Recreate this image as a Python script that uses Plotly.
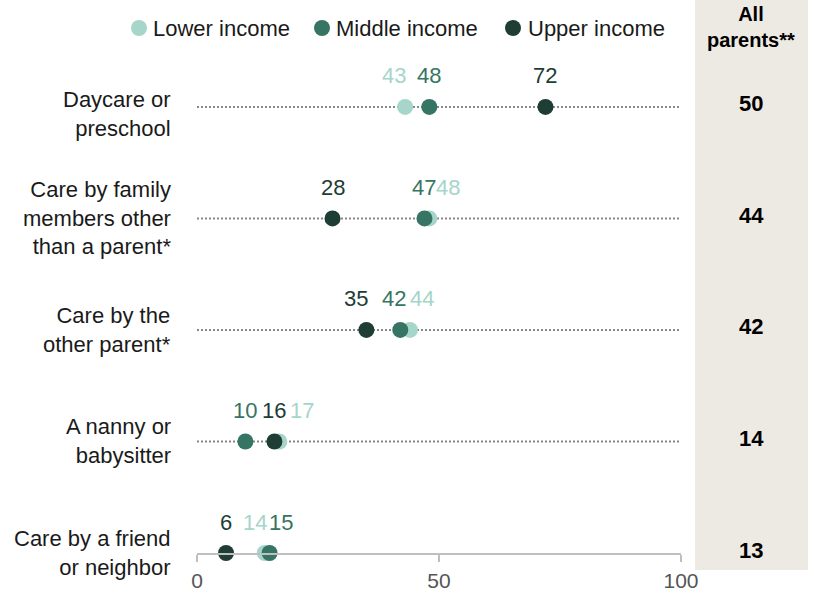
import plotly.graph_objects as go

# Care arrangements used by parents, by family income (%)
categories = [
    "Daycare or<br>preschool",
    "Care by family<br>members other<br>than a parent*",
    "Care by the<br>other parent*",
    "A nanny or<br>babysitter",
    "Care by a friend<br>or neighbor",
]
lower_income = [43, 48, 44, 17, 14]
middle_income = [48, 47, 42, 10, 15]
upper_income = [72, 28, 35, 16, 6]
all_parents = [50, 44, 42, 14, 13]
x_ticks = [0, 50, 100]

series = [
    ("Lower income", lower_income, "#A6D5C9"),
    ("Middle income", middle_income, "#367563"),
    ("Upper income", upper_income, "#1D3D35"),
]

# horizontal nudges (px) so neighbouring value labels don't collide
label_nudge = {
    "Lower income": [-11, 19, 12, 23, -10],
    "Middle income": [0, 0, -6, 0, 11],
    "Upper income": [0, 0, -10, 0, 0],
}

FONT = "Liberation Sans"
fig = go.Figure()

for name, vals, color in series:
    fig.add_trace(go.Scatter(
        x=vals, y=categories, mode="markers", name=name,
        marker=dict(size=16, color=color),
        cliponaxis=False, showlegend=False, hoverinfo="skip",
    ))

annotations = []
shapes = []

# dotted guide lines (last row sits on the axis line)
for cat in categories[:-1]:
    shapes.append(dict(
        type="line", xref="x", yref="y", x0=0, x1=100, y0=cat, y1=cat,
        line=dict(color="#888888", width=2, dash="2px,2px"), layer="below",
    ))

# value labels above the dots
for name, vals, color in series:
    for cat, v, dx in zip(categories, vals, label_nudge[name]):
        annotations.append(dict(
            x=v, y=cat, xref="x", yref="y", text=str(v), showarrow=False,
            xshift=dx, yshift=31, xanchor="center", yanchor="middle",
            font=dict(family=FONT, size=22, color=color),
        ))

# category labels
for i, cat in enumerate(categories):
    annotations.append(dict(
        x=0, y=cat, xref="paper", yref="y", text=cat, showarrow=False,
        xanchor="right", yanchor="middle", align="right", xshift=-24,
        yshift=-7 if i == 0 else 0,
        font=dict(family=FONT, size=22, color="#1A1A1A"),
    ))

# "All parents" column
shapes.append(dict(
    type="rect", xref="paper", yref="paper",
    x0=(695 - 197) / 484, x1=(808 - 197) / 484,
    y0=(553 - 570) / 513, y1=(553 - 0) / 513,
    fillcolor="#EDEAE3", line=dict(width=0), layer="below",
))
col_x = (751 - 197) / 484
annotations.append(dict(
    x=col_x, y=(553 - 27) / 513, xref="paper", yref="paper",
    text="<b>All<br>parents**</b>", showarrow=False,
    xanchor="center", yanchor="middle", align="center",
    font=dict(family=FONT, size=20, color="#000000"),
))
for cat, v in zip(categories, all_parents):
    annotations.append(dict(
        x=col_x, y=cat, xref="paper", yref="y", text=f"<b>{v}</b>",
        showarrow=False, xanchor="center", yanchor="middle", yshift=3,
        font=dict(family=FONT, size=22, color="#000000"),
    ))

# legend drawn as circles + text
legend_items = [(139, 151), (322, 334), (513, 526)]
leg_y = (553 - 28) / 513
for (cx, tx), (name, _, color) in zip(legend_items, series):
    shapes.append(dict(
        type="circle", xref="paper", yref="paper",
        xsizemode="pixel", ysizemode="pixel",
        xanchor=(cx - 197) / 484, yanchor=leg_y,
        x0=-8, x1=8, y0=-8, y1=8,
        fillcolor=color, line=dict(width=0),
    ))
    annotations.append(dict(
        x=(tx - 197) / 484, y=leg_y, xref="paper", yref="paper",
        text=name, showarrow=False, xanchor="left", yanchor="middle",
        font=dict(family=FONT, size=22, color="#1A1A1A"),
    ))

fig.update_layout(
    width=814, height=595,
    margin=dict(l=197, r=133, t=40, b=42, autoexpand=False),
    paper_bgcolor="white", plot_bgcolor="white",
    shapes=shapes, annotations=annotations,
    font=dict(family=FONT),
)
fig.update_xaxes(
    range=[0, 100], tickvals=x_ticks, ticktext=[str(t) for t in x_ticks],
    showgrid=False, zeroline=False, automargin=False,
    showline=True, linecolor="#BFBFBF", linewidth=2,
    ticks="outside", ticklen=7, tickcolor="#BFBFBF", tickwidth=2,
    ticklabelstandoff=1,
    tickfont=dict(family=FONT, size=21, color="#555555"),
)
fig.update_yaxes(
    type="category", categoryorder="array", categoryarray=categories,
    range=[4, -0.6], showticklabels=False, showgrid=False, automargin=False,
    zeroline=False, showline=False, ticks="",
)

fig.write_html("out.html")
